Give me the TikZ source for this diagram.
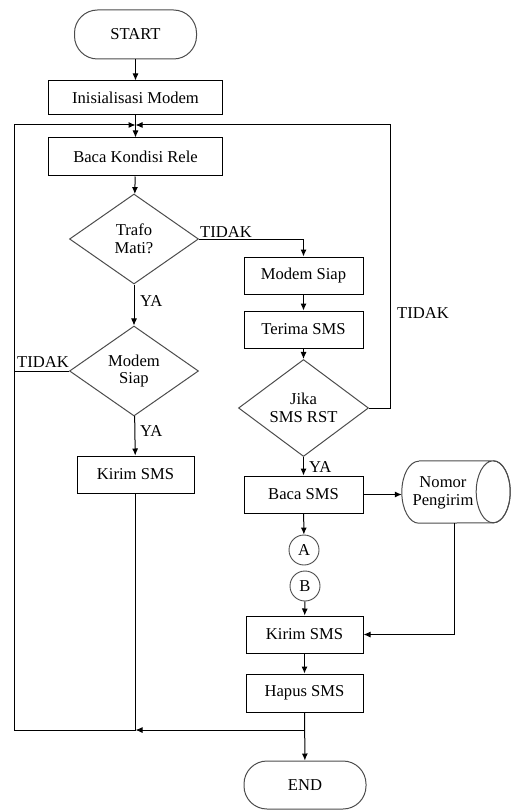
\documentclass[tikz,border=0pt]{standalone}
\usepackage{fontspec}
\setmainfont{Liberation Serif}
\newfontfamily\tnrfont{Liberation Serif}
\usetikzlibrary{shapes.geometric,arrows.meta,calc}
\begin{document}
\begin{tikzpicture}[x=1pt,y=-1pt,
  font=\tnrfont\fontsize{16.6}{17.5}\selectfont,
  box/.style={draw=black, line width=1pt, inner sep=0pt},
  term/.style={draw=black!70, line width=1pt, rounded corners=23pt, inner sep=0pt},
  dec/.style={diamond, draw=black!70, line width=1pt, inner sep=0pt, align=center},
  conn/.style={circle, draw=black!70, line width=0.9pt, minimum size=30pt, inner sep=0pt},
  outline/.style={draw=black!70, line width=1pt},
  line/.style={line width=1pt, draw=black},
  arr/.style={line, -{Latex[length=7pt,width=6pt]}},
  lbl/.style={inner sep=0pt, align=center}]
\useasboundingbox (0,0) rectangle (513,810);

% left column
\node[term, minimum width=122pt, minimum height=49pt] (start) at (135.5,34.5) {START};
\node[box, minimum width=174pt, minimum height=34pt] (init) at (135.5,98) {Inisialisasi Modem};
\node[box, minimum width=174pt, minimum height=38pt] (baca) at (135.5,157) {Baca Kondisi Rele};
\node[dec, minimum width=129pt, minimum height=90pt] (trafo) at (134,239) {Trafo\\Mati?};
\node[dec, minimum width=129pt, minimum height=90pt] (msiap) at (134,371) {Modem\\Siap};
\node[box, minimum width=117pt, minimum height=37pt] (kirim1) at (135.5,474.5) {Kirim SMS};

% right column
\node[box, minimum width=119pt, minimum height=37pt] (modem) at (303.5,275.5) {Modem Siap};
\node[box, minimum width=119pt, minimum height=37pt] (terima) at (303.5,329.5) {Terima SMS};
\node[dec, minimum width=130pt, minimum height=90pt] (jika) at (303.5,408) {Jika\\SMS RST};
\node[box, minimum width=119pt, minimum height=37pt] (bacasms) at (303.5,494.5) {Baca SMS};
\node[conn] (A) at (304,550) {A};
\node[conn] (B) at (305,586) {B};
\node[box, minimum width=117pt, minimum height=37pt] (kirim2) at (304.5,634.5) {Kirim SMS};
\node[box, minimum width=117pt, minimum height=38pt] (hapus) at (304.5,693) {Hapus SMS};
\node[term, minimum width=122pt, minimum height=48pt] (end) at (305,785) {END};

% storage (cylinder) : frame node plus text
\node[inner sep=0pt, minimum width=108pt, minimum height=62pt] (nomor) at (456,492) {};
\node[lbl] (nomortxt) at (443,493) {Nomor\\Pengirim};
\draw[outline] ([xshift=17pt]nomor.north west) -- ([xshift=-17pt]nomor.north east)
  arc[start angle=90, end angle=-270, x radius=17pt, y radius=31pt];
\draw[outline] ([xshift=-17pt]nomor.north east) arc[start angle=90, end angle=-90, x radius=17pt, y radius=31pt]
  -- ([xshift=17pt]nomor.south west)
  arc[start angle=270, end angle=90, x radius=17pt, y radius=31pt];

% labels
\node[lbl, anchor=base west] (l1) at (200,237.5) {TIDAK};
\node[lbl, anchor=base west] (l2) at (140,306) {YA};
\node[lbl, anchor=base west] (l3) at (17,367.5) {TIDAK};
\node[lbl, anchor=base west] (l4) at (140,436) {YA};
\node[lbl, anchor=base west] (l5) at (397,318) {TIDAK};
\node[lbl, anchor=base west] (l6) at (309,472) {YA};

% junction points
\coordinate (m1) at (135.5,125);
\coordinate (tl) at (14,125);
\coordinate (cl) at (14,730);
\coordinate (j3) at (135.5,730);
\coordinate (j2) at (304.5,730);
\coordinate (tr) at (390,125);
\coordinate (rr) at (390,408);

% connectors
\draw[arr] (start) -- (init);
\draw[arr] (init) -- (baca);
\draw[arr] (baca) -- (trafo);
\draw[arr] (trafo) -- (msiap);
\draw[arr] (trafo.east) -| (modem.north);
\draw[arr] (msiap) -- (kirim1);
\draw[line] (msiap.west) -- (msiap.west -| cl);
\draw[line] (kirim1) -- (j3);
\draw[arr] (j2) -- (j3);
\draw[arr] (j3) -- (cl) -- (tl) -- (m1);
\draw[arr] (jika.east) -- (rr) -- (tr) -- (m1);
\draw[arr] (modem) -- (terima);
\draw[arr] (terima) -- (jika);
\draw[arr] (jika) -- (bacasms);
\draw[arr] (bacasms.east) -- (bacasms.east -| nomor.west);
\draw[arr] (bacasms) -- (A);
\draw[arr] (B) -- (kirim2);
\draw[arr] ([xshift=-2pt]nomor.south) |- (kirim2.east);
\draw[arr] (kirim2) -- (hapus);
\draw[arr] (hapus) -- (end);
\end{tikzpicture}
\end{document}
